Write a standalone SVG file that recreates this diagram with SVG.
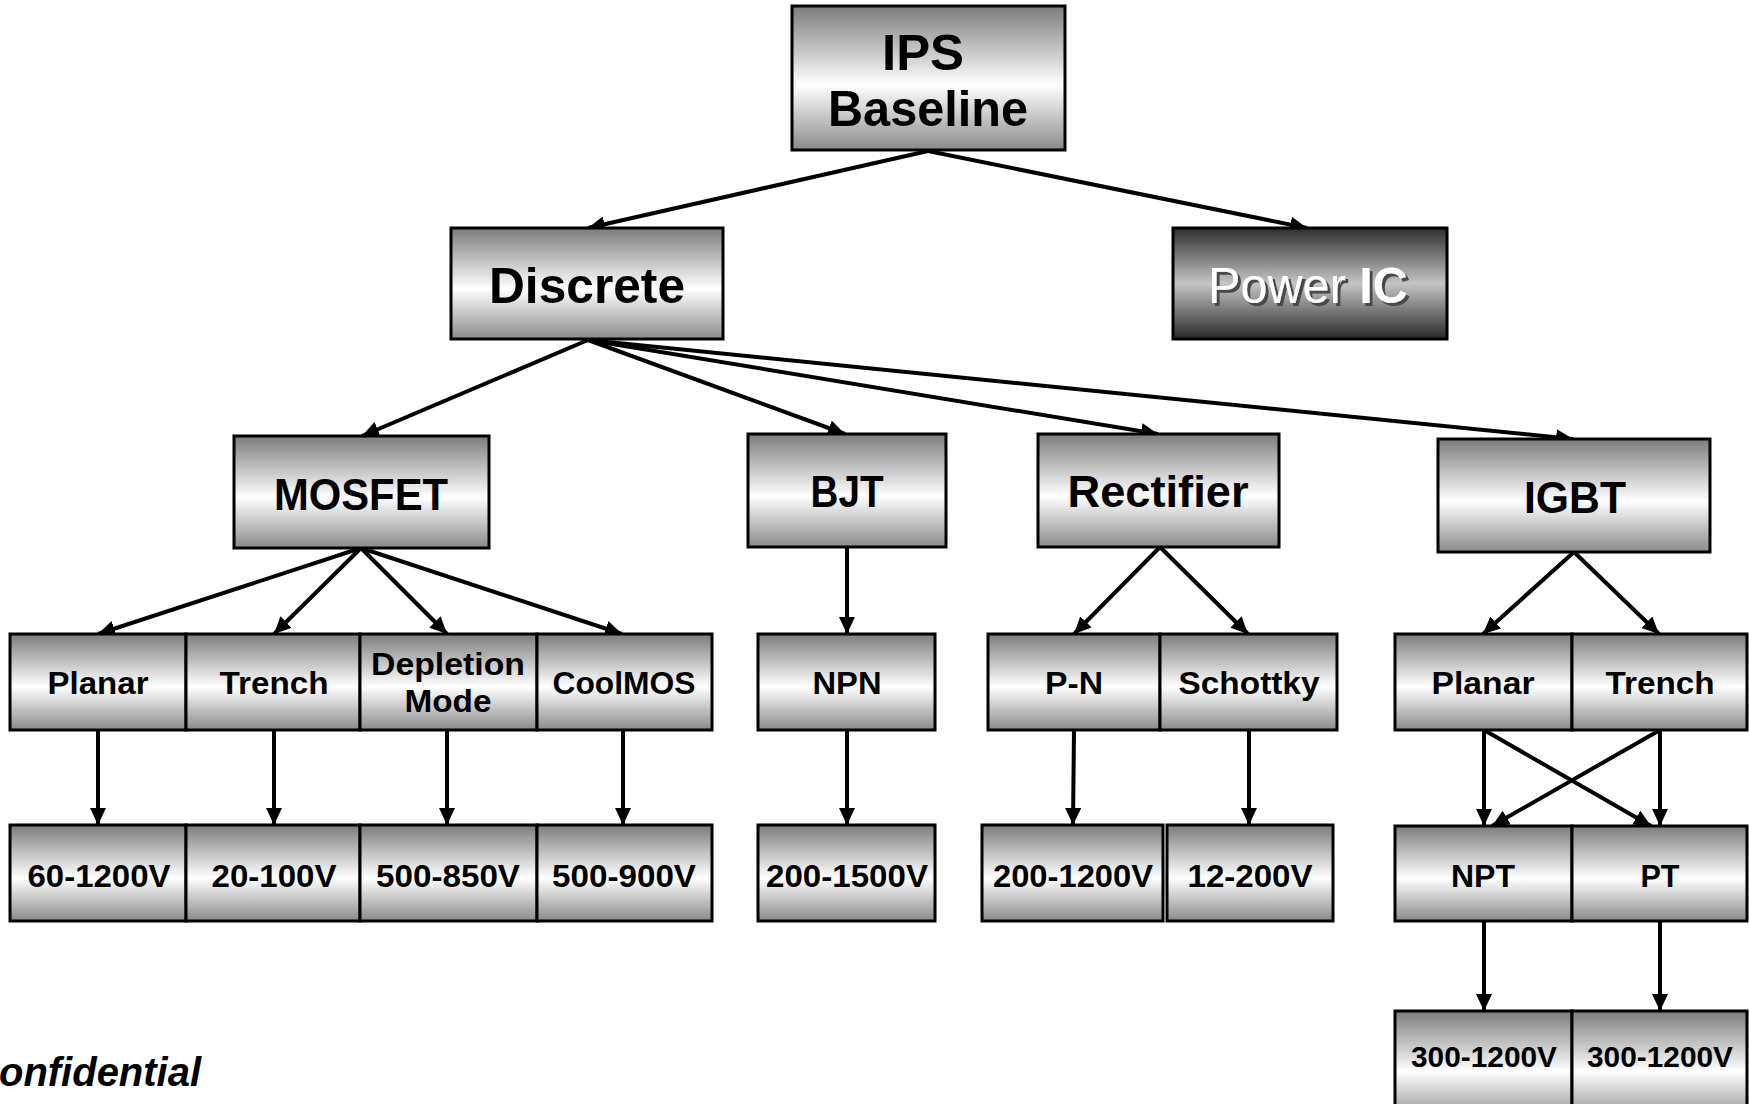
<svg xmlns="http://www.w3.org/2000/svg" width="1749" height="1104" viewBox="0 0 1749 1104">
<defs>
<linearGradient id="g" x1="0" y1="0" x2="0" y2="1">
<stop offset="0" stop-color="#7c7c7c"/>
<stop offset="0.55" stop-color="#ffffff"/>
<stop offset="1" stop-color="#8a8a8a"/>
</linearGradient>
<linearGradient id="gd" x1="0" y1="0" x2="0" y2="1">
<stop offset="0" stop-color="#2e2e2e"/>
<stop offset="0.5" stop-color="#c4c4c4"/>
<stop offset="1" stop-color="#2a2a2a"/>
</linearGradient>
<filter id="sh" x="-10%" y="-20%" width="130%" height="150%">
<feDropShadow dx="3" dy="3" stdDeviation="0" flood-color="#4a4a4a" flood-opacity="1"/>
</filter>
<marker id="ah" markerUnits="userSpaceOnUse" markerWidth="18" markerHeight="16" refX="17" refY="8" orient="auto">
<path d="M0,0 L17,8 L0,16 z" fill="#000"/>
</marker>
<style>
.b{fill:url(#g);stroke:#000;stroke-width:3}
.bd{fill:url(#gd);stroke:#000;stroke-width:3}
.t{font-family:"Liberation Sans",Arial,sans-serif;font-weight:bold;fill:#000;text-anchor:middle}
.l1{font-size:50px}
.l2{font-size:44px}
.l3{font-size:32px}
.l5{font-size:29px}
.c line{stroke:#000;stroke-width:4;marker-end:url(#ah)}
</style>
</defs>
<rect width="1749" height="1104" fill="#fff"/>

<g id="connectors" class="c">
<line x1="928" y1="151" x2="588" y2="228"/>
<line x1="928" y1="151" x2="1307" y2="228"/>
<line x1="588" y1="340" x2="362" y2="436"/>
<line x1="588" y1="340" x2="845" y2="434"/>
<line x1="588" y1="340" x2="1158" y2="434"/>
<line x1="588" y1="340" x2="1573" y2="439"/>
<line x1="361" y1="548" x2="98" y2="634"/>
<line x1="361" y1="548" x2="274" y2="634"/>
<line x1="361" y1="548" x2="447" y2="634"/>
<line x1="361" y1="548" x2="622" y2="634"/>
<line x1="98" y1="730" x2="98" y2="825"/>
<line x1="274" y1="730" x2="274" y2="825"/>
<line x1="447" y1="730" x2="447" y2="825"/>
<line x1="623" y1="730" x2="623" y2="825"/>
<line x1="847" y1="547" x2="847" y2="634"/>
<line x1="847" y1="730" x2="847" y2="825"/>
<line x1="1160" y1="547" x2="1074" y2="634"/>
<line x1="1160" y1="547" x2="1248" y2="634"/>
<line x1="1074" y1="730" x2="1073" y2="825"/>
<line x1="1249" y1="730" x2="1249" y2="825"/>
<line x1="1574" y1="552" x2="1483" y2="634"/>
<line x1="1574" y1="552" x2="1659" y2="634"/>
<line x1="1484" y1="730" x2="1484" y2="826"/>
<line x1="1484" y1="730" x2="1651" y2="826"/>
<line x1="1660" y1="730" x2="1492" y2="826"/>
<line x1="1660" y1="730" x2="1660" y2="826"/>
<line x1="1484" y1="921" x2="1484" y2="1011"/>
<line x1="1660" y1="921" x2="1660" y2="1011"/>
</g>

<g id="ips">
<rect class="b" x="792" y="6" width="273" height="144"/>
<text class="t l1" x="923" y="70" textLength="82" lengthAdjust="spacingAndGlyphs">IPS</text>
<text class="t l1" x="928" y="126" textLength="200" lengthAdjust="spacingAndGlyphs">Baseline</text>
</g>
<g id="discrete">
<rect class="b" x="451" y="228" width="272" height="111"/>
<text class="t l1" x="587" y="303" textLength="196" lengthAdjust="spacingAndGlyphs">Discrete</text>
</g>
<g id="poweric">
<rect class="bd" x="1173" y="228" width="274" height="111"/>
<text x="1308" y="303" font-family="Liberation Sans,Arial,sans-serif" font-size="50" text-anchor="middle" fill="#fff" filter="url(#sh)" textLength="200" lengthAdjust="spacingAndGlyphs">Power <tspan font-weight="bold">IC</tspan></text>
</g>
<g id="mosfet">
<rect class="b" x="234" y="436" width="255" height="112"/>
<text class="t l2" x="361" y="510" textLength="174" lengthAdjust="spacingAndGlyphs">MOSFET</text>
</g>
<g id="bjt">
<rect class="b" x="748" y="434" width="198" height="113"/>
<text class="t l2" x="847" y="507" textLength="73" lengthAdjust="spacingAndGlyphs">BJT</text>
</g>
<g id="rectifier">
<rect class="b" x="1038" y="434" width="241" height="113"/>
<text class="t l2" x="1158" y="507" textLength="181" lengthAdjust="spacingAndGlyphs">Rectifier</text>
</g>
<g id="igbt">
<rect class="b" x="1438" y="439" width="272" height="113"/>
<text class="t l2" x="1575" y="513" textLength="102" lengthAdjust="spacingAndGlyphs">IGBT</text>
</g>

<g id="mos-planar">
<rect class="b" x="10" y="634" width="176" height="96"/>
<text class="t l3" x="98" y="694" textLength="101" lengthAdjust="spacingAndGlyphs">Planar</text>
</g>
<g id="mos-trench">
<rect class="b" x="186" y="634" width="174" height="96"/>
<text class="t l3" x="274" y="694" textLength="109" lengthAdjust="spacingAndGlyphs">Trench</text>
</g>
<g id="mos-depletion">
<rect class="b" x="360" y="634" width="177" height="96"/>
<text class="t l3" x="448" y="675" textLength="154" lengthAdjust="spacingAndGlyphs">Depletion</text>
<text class="t l3" x="448" y="712" textLength="87" lengthAdjust="spacingAndGlyphs">Mode</text>
</g>
<g id="mos-coolmos">
<rect class="b" x="537" y="634" width="175" height="96"/>
<text class="t l3" x="624" y="694" textLength="143" lengthAdjust="spacingAndGlyphs">CoolMOS</text>
</g>
<g id="npn">
<rect class="b" x="758" y="634" width="177" height="96"/>
<text class="t l3" x="847" y="694" textLength="69" lengthAdjust="spacingAndGlyphs">NPN</text>
</g>
<g id="pn">
<rect class="b" x="988" y="634" width="172" height="96"/>
<text class="t l3" x="1074" y="694" textLength="58" lengthAdjust="spacingAndGlyphs">P-N</text>
</g>
<g id="schottky">
<rect class="b" x="1160" y="634" width="177" height="96"/>
<text class="t l3" x="1249" y="694" textLength="141" lengthAdjust="spacingAndGlyphs">Schottky</text>
</g>
<g id="igbt-planar">
<rect class="b" x="1395" y="634" width="177" height="96"/>
<text class="t l3" x="1483" y="694" textLength="103" lengthAdjust="spacingAndGlyphs">Planar</text>
</g>
<g id="igbt-trench">
<rect class="b" x="1572" y="634" width="175" height="96"/>
<text class="t l3" x="1660" y="694" textLength="109" lengthAdjust="spacingAndGlyphs">Trench</text>
</g>

<g id="v60-1200">
<rect class="b" x="10" y="825" width="176" height="96"/>
<text class="t l3" x="99" y="887" textLength="143" lengthAdjust="spacingAndGlyphs">60-1200V</text>
</g>
<g id="v20-100">
<rect class="b" x="186" y="825" width="174" height="96"/>
<text class="t l3" x="274" y="887" textLength="125" lengthAdjust="spacingAndGlyphs">20-100V</text>
</g>
<g id="v500-850">
<rect class="b" x="360" y="825" width="177" height="96"/>
<text class="t l3" x="448" y="887" textLength="144" lengthAdjust="spacingAndGlyphs">500-850V</text>
</g>
<g id="v500-900">
<rect class="b" x="537" y="825" width="175" height="96"/>
<text class="t l3" x="624" y="887" textLength="144" lengthAdjust="spacingAndGlyphs">500-900V</text>
</g>
<g id="v200-1500">
<rect class="b" x="758" y="825" width="177" height="96"/>
<text class="t l3" x="847" y="887" textLength="162" lengthAdjust="spacingAndGlyphs">200-1500V</text>
</g>
<g id="v200-1200">
<rect class="b" x="982" y="825" width="181" height="96"/>
<text class="t l3" x="1073" y="887" textLength="160" lengthAdjust="spacingAndGlyphs">200-1200V</text>
</g>
<g id="v12-200">
<rect class="b" x="1167" y="825" width="166" height="96"/>
<text class="t l3" x="1250" y="887" textLength="125" lengthAdjust="spacingAndGlyphs">12-200V</text>
</g>
<g id="npt">
<rect class="b" x="1395" y="826" width="177" height="95"/>
<text class="t l3" x="1483" y="887" textLength="64" lengthAdjust="spacingAndGlyphs">NPT</text>
</g>
<g id="pt">
<rect class="b" x="1572" y="826" width="175" height="95"/>
<text class="t l3" x="1660" y="887" textLength="39" lengthAdjust="spacingAndGlyphs">PT</text>
</g>
<g id="npt-v">
<rect class="b" x="1395" y="1011" width="177" height="110"/>
<text class="t l5" x="1484" y="1067" textLength="146" lengthAdjust="spacingAndGlyphs">300-1200V</text>
</g>
<g id="pt-v">
<rect class="b" x="1572" y="1011" width="175" height="110"/>
<text class="t l5" x="1660" y="1067" textLength="146" lengthAdjust="spacingAndGlyphs">300-1200V</text>
</g>

<text x="-1" y="1086" font-family="Liberation Sans,Arial,sans-serif" font-weight="bold" font-style="italic" font-size="40" fill="#000" textLength="202" lengthAdjust="spacingAndGlyphs">onfidential</text>
</svg>
